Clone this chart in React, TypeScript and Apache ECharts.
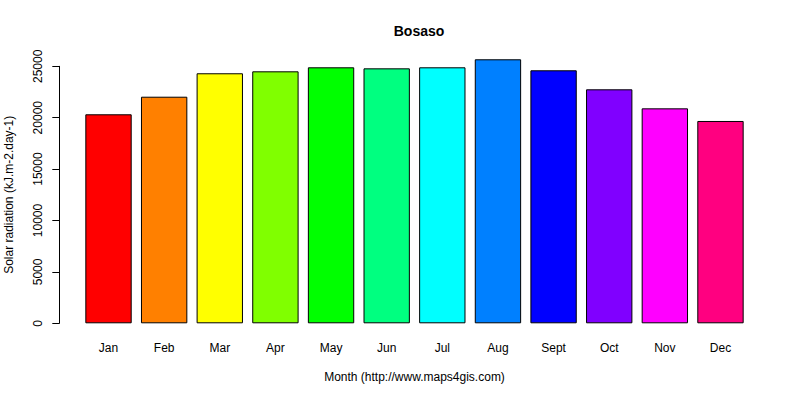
import { useEffect, useRef } from "react";
import * as echarts from "echarts";

const months = ["Jan", "Feb", "Mar", "Apr", "May", "Jun", "Jul", "Aug", "Sept", "Oct", "Nov", "Dec"];
const radiation = [20330, 22040, 24320, 24510, 24900, 24800, 24900, 25680, 24610, 22760, 20910, 19680];
const barColors = [
  "#FF0000", "#FF8000", "#FFFF00", "#80FF00", "#00FF00", "#00FF80",
  "#00FFFF", "#0080FF", "#0000FF", "#8000FF", "#FF00FF", "#FF0080",
];

const font = "Liberation Sans, Arial, sans-serif";

export default function App() {
  const ref = useRef<HTMLDivElement>(null);

  useEffect(() => {
    document.body.style.margin = "0";
    const el = ref.current;
    if (!el) return;
    const chart = echarts.init(el, null, { renderer: "svg" });

    chart.setOption({
      animation: false,
      backgroundColor: "#fff",
      textStyle: { fontFamily: font },
      title: {
        text: "Bosaso",
        left: 414,
        top: 19,
        textAlign: "center",
        textStyle: { fontSize: 14, fontWeight: "bold", color: "#000", fontFamily: font },
      },
      grid: [
        { left: 80.7, right: 51.7, top: 56, bottom: 76.7 },
        { left: 59.3, width: 1, top: 66.3, bottom: 76.7 },
      ],
      xAxis: [
        {
          type: "category",
          gridIndex: 0,
          data: months,
          axisLine: { show: false },
          axisTick: { show: false },
          axisLabel: { color: "#000", fontSize: 12, margin: 19, fontFamily: font },
          name: "Month (http://www.maps4gis.com)",
          nameLocation: "middle",
          nameGap: 48,
          nameTextStyle: { color: "#000", fontSize: 12, fontFamily: font },
        },
        { type: "value", gridIndex: 1, show: false },
      ],
      yAxis: [
        { type: "value", gridIndex: 0, min: 0, max: 26000, show: false },
        {
          type: "value",
          gridIndex: 1,
          min: 0,
          max: 25000,
          interval: 5000,
          axisLine: { show: true, lineStyle: { color: "#000", width: 1 } },
          axisTick: { show: true, length: 7, lineStyle: { color: "#000" } },
          splitLine: { show: false },
          axisLabel: {
            color: "#000",
            fontSize: 12,
            rotate: 90,
            margin: 15,
            fontFamily: font,
            formatter: (v: number) => String(v),
          },
          name: "Solar radiation (kJ.m-2.day-1)",
          nameLocation: "middle",
          nameGap: 44,
          nameTextStyle: { color: "#000", fontSize: 12, fontFamily: font },
        },
      ],
      series: [
        {
          type: "bar",
          xAxisIndex: 0,
          yAxisIndex: 0,
          barCategoryGap: "16.67%",
          data: radiation.map((v, i) => ({
            value: v,
            itemStyle: { color: barColors[i], borderColor: "#000", borderWidth: 1 },
          })),
        },
      ],
    });

    return () => chart.dispose();
  }, []);

  return <div ref={ref} style={{ width: 800, height: 400 }} />;
}
